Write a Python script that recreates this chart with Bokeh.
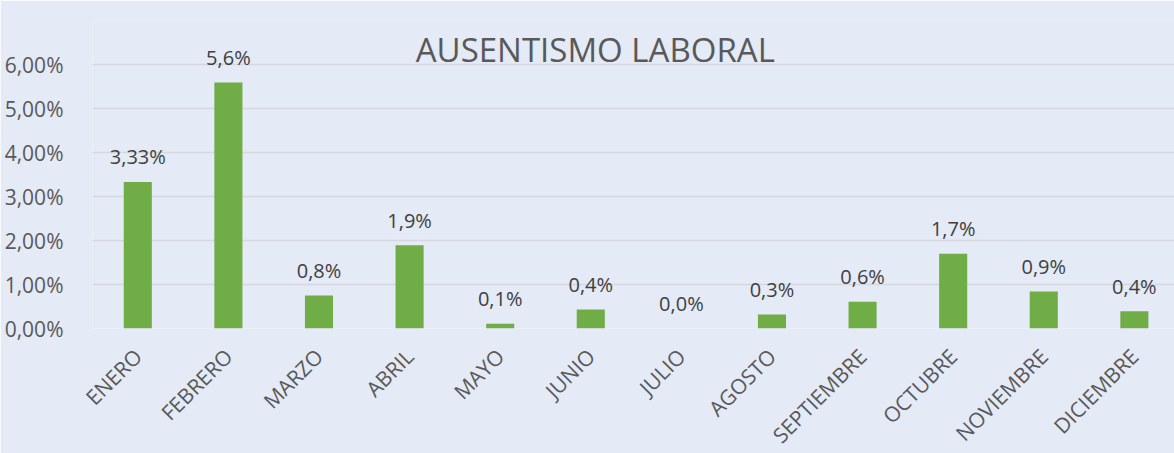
from bokeh.plotting import figure
from bokeh.models import ColumnDataSource, Range1d, FixedTicker, Label
from bokeh.core.properties import value
from bokeh.embed import file_html
from bokeh.resources import INLINE
import math

months = ["ENERO", "FEBRERO", "MARZO", "ABRIL", "MAYO", "JUNIO", "JULIO",
          "AGOSTO", "SEPTIEMBRE", "OCTUBRE", "NOVIEMBRE", "DICIEMBRE"]
values = [3.33, 5.59, 0.75, 1.89, 0.11, 0.43, 0.0, 0.32, 0.61, 1.70, 0.84, 0.39]
labels = ["3,33%", "5,6%", "0,8%", "1,9%", "0,1%", "0,4%", "0,0%",
          "0,3%", "0,6%", "1,7%", "0,9%", "0,4%"]
y_ticks = [0, 1, 2, 3, 4, 5, 6]
y_tick_labels = ["0,00%", "1,00%", "2,00%", "3,00%", "4,00%", "5,00%", "6,00%"]
title_text = "AUSENTISMO LABORAL"

BG = "#e4eaf6"
FONT = "Open Sans"

xs = list(range(len(months)))
src = ColumnDataSource(dict(x=xs, top=values, lab=labels))

p = figure(frame_width=1082, frame_height=308, output_backend="svg",
           toolbar_location=None,
           x_range=Range1d(-0.5, 11.443), y_range=Range1d(0, 7.0),
           min_border_left=92, min_border_right=0, min_border_top=20,
           min_border_bottom=125)
p.background_fill_color = BG
p.border_fill_color = BG
p.outline_line_color = None

p.vbar(x="x", top="top", width=0.31, bottom=0, source=src,
       fill_color="#70ad47", line_color=None)

p.text(x="x", y="top", text="lab", source=src, text_align="center",
       text_baseline="alphabetic", y_offset=-25,
       text_font=value(FONT), text_font_size="20px", text_color="#404040")

p.add_layout(Label(x=5.05, y=6.33, text=title_text, text_align="center",
                   text_baseline="alphabetic", text_font=FONT,
                   text_font_size="33px", text_color="#595959"))

# y axis
p.yaxis.ticker = FixedTicker(ticks=y_ticks)
p.yaxis.major_label_overrides = {t: l for t, l in zip(y_ticks, y_tick_labels)}
p.yaxis.axis_line_color = None
p.yaxis.major_tick_line_color = None
p.yaxis.minor_tick_line_color = None
p.yaxis.major_label_standoff = 23
p.yaxis.major_label_text_font = FONT
p.yaxis.major_label_text_font_size = "21px"
p.yaxis.major_label_text_color = "#595959"

# x axis
p.xaxis.ticker = FixedTicker(ticks=xs)
p.xaxis.major_label_overrides = {i: m for i, m in enumerate(months)}
p.xaxis.major_label_orientation = math.pi / 4
p.xaxis.axis_line_color = None
p.xaxis.major_tick_line_color = None
p.xaxis.minor_tick_line_color = None
p.xaxis.major_label_standoff = 18
p.xaxis.major_label_text_font = FONT
p.xaxis.major_label_text_font_size = "21px"
p.xaxis.major_label_text_color = "#595959"

p.xgrid.grid_line_color = None
p.ygrid.ticker = FixedTicker(ticks=y_ticks)
p.ygrid.grid_line_color = "#d5d8de"
p.ygrid.grid_line_width = 1.6

open("out.html", "w").write(file_html(p, INLINE))
